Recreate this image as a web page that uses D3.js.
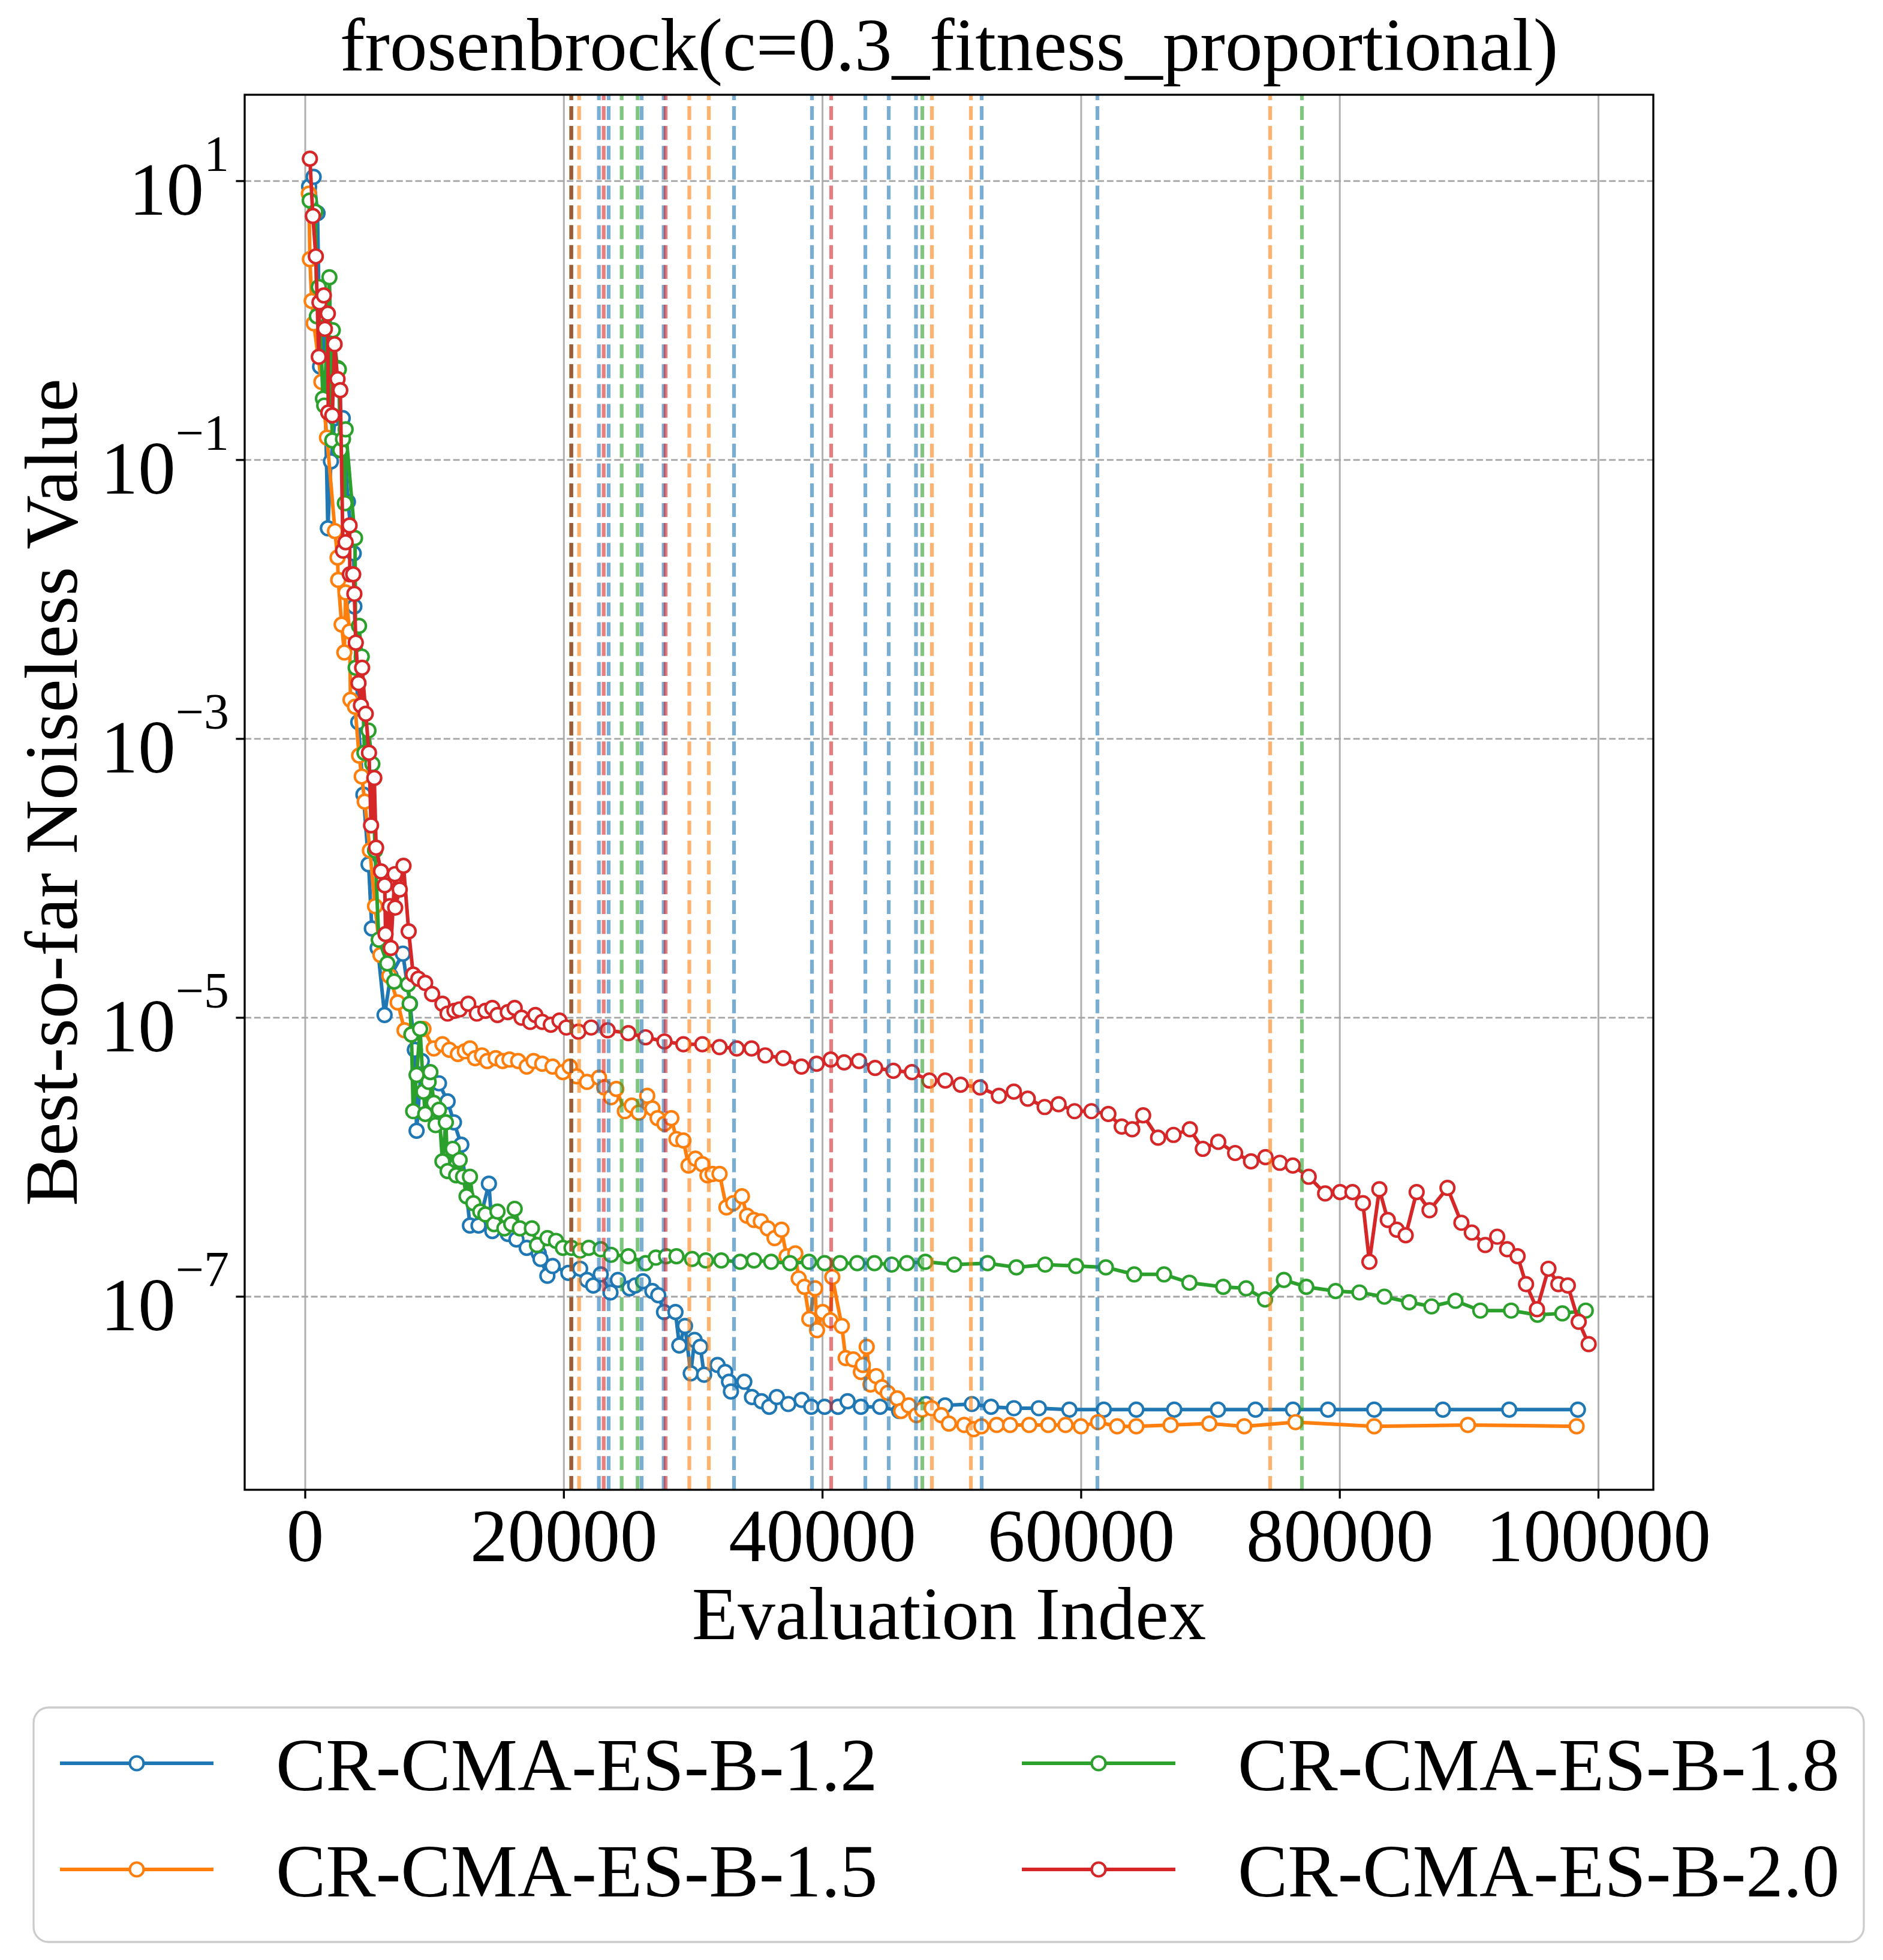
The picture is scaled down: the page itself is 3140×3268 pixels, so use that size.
<!DOCTYPE html>
<meta charset="utf-8">
<style>
body { margin: 0; background: #fff; }
text { font-family: "Liberation Serif", "Times New Roman", Times, serif; fill: #000; }
</style>
<svg id="chart" width="3140" height="3268"></svg>
<script src="https://d3js.org/d3.v7.min.js"></script>
<script>
// ---- data: [evaluation index, log10(best-so-far value)] ----
var blueRun = [
  [300,0.96],[650,1.03],[950,0.77],[1150,-0.33],[1400,0.10],[1750,-1.49],[1990,-1.01],[2300,-0.70],
  [2900,-0.70],[3300,-1.30],[3750,-1.67],[3800,-2.05],[4100,-2.88],[4500,-3.40],[4900,-3.90],[5150,-4.36],
  [5600,-4.50],[6135,-4.98],[6600,-4.70],[7550,-4.54],[8100,-4.90],[8477,-5.23],[8611,-5.81],[9011,-5.31],
  [9500,-5.40],[10341,-5.47],[11009,-5.60],[11500,-5.75],[12070,-5.91],[12738,-6.49],[13401,-6.49],[14203,-6.19],
  [14467,-6.53],[15664,-6.55],[16331,-6.59],[17129,-6.65],[18061,-6.69],[18195,-6.73],[18724,-6.85],[19128,-6.78],
  [20347,-6.83],[21256,-6.80],[21789,-6.88],[22272,-6.92],[22851,-6.84],[23603,-6.97],[24182,-6.88],[25082,-6.94],
  [25513,-6.92],[26116,-6.89],[26844,-6.96],[27299,-6.99],[27743,-7.11],[28629,-7.11],[28926,-7.35],[29366,-7.21],
  [29811,-7.55],[30108,-7.31],[30553,-7.36],[30845,-7.56],[31884,-7.49],[32472,-7.54],[32770,-7.61],[32918,-7.68],
  [33952,-7.61],[34546,-7.72],[35284,-7.75],[35877,-7.79],[36467,-7.72],[37353,-7.77],[38392,-7.74],[39129,-7.79],
  [40163,-7.79],[41197,-7.79],[41937,-7.75],[42971,-7.79],[44450,-7.79],[45930,-7.82],[47998,-7.77],[49478,-7.78],
  [51551,-7.77],[53030,-7.79],[54801,-7.80],[56725,-7.80],[59090,-7.81],[61752,-7.81],[64264,-7.81],[67200,-7.81],
  [70580,-7.81],[73480,-7.81],[76380,-7.81],[79090,-7.81],[82660,-7.81],[87970,-7.81],[93100,-7.81],[98410,-7.81]
];
var orangeRun = [
  [280,0.91],[360,0.44],[500,0.14],[660,-0.02],[1250,-0.44],[1680,-0.84],[2300,-1.51],[2500,-1.70],
  [2550,-1.86],[2815,-2.18],[3023,-2.38],[3125,-1.95],[3431,-2.23],[3500,-2.72],[3850,-2.77],[4164,-3.12],
  [4368,-3.27],[4600,-3.45],[5000,-3.80],[5400,-4.20],[5815,-4.55],[6500,-4.70],[7146,-4.89],[7680,-5.09],
  [8212,-5.12],[9144,-5.08],[9942,-5.22],[10610,-5.19],[11143,-5.23],[11806,-5.26],[12339,-5.24],[12738,-5.22],
  [13137,-5.29],[13670,-5.27],[14069,-5.31],[14732,-5.29],[15265,-5.31],[15798,-5.30],[16466,-5.31],[17129,-5.35],
  [17663,-5.31],[18330,-5.33],[19128,-5.35],[19920,-5.39],[20458,-5.35],[20987,-5.42],[21789,-5.46],[22721,-5.43],
  [23120,-5.50],[23649,-5.57],[24052,-5.51],[24715,-5.67],[25249,-5.63],[25782,-5.68],[26445,-5.56],[26849,-5.65],
  [27247,-5.72],[27776,-5.76],[28309,-5.72],[28708,-5.87],[29241,-5.88],[29640,-6.06],[30173,-6.01],[30706,-6.05],
  [31105,-6.13],[31504,-6.12],[32037,-6.12],[32570,-6.36],[33100,-6.33],[33767,-6.28],[34166,-6.42],[34699,-6.45],
  [35232,-6.46],[35766,-6.51],[36294,-6.58],[36827,-6.52],[37226,-6.71],[37894,-6.69],[38158,-6.87],[38600,-6.93],
  [38979,-7.16],[39425,-6.94],[39573,-7.24],[40014,-7.11],[40607,-7.17],[40756,-6.86],[41493,-7.21],[41789,-7.44],
  [42378,-7.45],[42971,-7.54],[43121,-7.49],[43416,-7.36],[43712,-7.63],[44154,-7.57],[44599,-7.65],[45044,-7.69],
  [45782,-7.73],[46079,-7.82],[46672,-7.78],[47262,-7.85],[47707,-7.81],[48443,-7.80],[49181,-7.85],[49773,-7.91],
  [50956,-7.92],[51698,-7.95],[52287,-7.93],[53470,-7.92],[54504,-7.92],[55983,-7.92],[57463,-7.92],[58793,-7.92],
  [59976,-7.93],[61305,-7.90],[62785,-7.93],[64264,-7.93],[66913,-7.92],[69908,-7.91],[72612,-7.93],[76574,-7.90],
  [82660,-7.93],[89905,-7.92],[98310,-7.93]
];
var greenRun = [
  [350,0.86],[780,0.78],[900,0.03],[1050,0.24],[1370,-0.56],[1470,-0.61],[1870,0.31],[2090,-0.86],
  [2130,-0.07],[2500,-0.34],[2600,-0.35],[2710,-0.93],[2920,-0.85],[3065,-1.31],[3125,-0.78],[3850,-1.56],
  [3900,-2.49],[4160,-2.19],[4370,-2.41],[4580,-3.10],[4890,-2.94],[5190,-3.18],[5400,-3.80],[5685,-4.44],
  [6349,-4.61],[6881,-4.74],[7948,-4.76],[8078,-4.90],[8212,-5.12],[8347,-5.67],[8611,-5.41],[8880,-5.08],
  [9144,-5.53],[9279,-5.69],[9543,-5.46],[9677,-5.39],[9942,-5.61],[10077,-5.77],[10341,-5.66],[10610,-6.03],
  [10874,-5.75],[11009,-6.10],[11407,-5.94],[11672,-6.13],[11940,-6.02],[12205,-6.14],[12474,-6.28],[12738,-6.14],
  [13002,-6.33],[13540,-6.39],[13934,-6.41],[14602,-6.48],[14867,-6.39],[15400,-6.51],[15932,-6.48],[16197,-6.37],
  [16596,-6.51],[17528,-6.51],[17927,-6.63],[18729,-6.58],[19392,-6.60],[19925,-6.65],[20588,-6.65],[21256,-6.67],
  [21924,-6.65],[22851,-6.66],[23649,-6.70],[24984,-6.71],[26315,-6.76],[27113,-6.72],[27910,-6.71],[28708,-6.71],
  [29910,-6.73],[30976,-6.74],[32172,-6.74],[33632,-6.75],[34699,-6.74],[36030,-6.75],[37494,-6.76],[38956,-6.75],
  [40158,-6.76],[41353,-6.76],[42684,-6.76],[44015,-6.76],[45345,-6.77],[46529,-6.76],[47952,-6.75],[50183,-6.77],
  [52761,-6.76],[54991,-6.79],[57221,-6.77],[59605,-6.78],[61910,-6.79],[64103,-6.84],[66408,-6.84],[68369,-6.90],
  [70985,-6.93],[72756,-6.94],[74217,-7.02],[75677,-6.88],[77407,-6.93],[79675,-6.96],[81521,-6.97],[83445,-7.00],
  [85365,-7.04],[87095,-7.07],[88940,-7.03],[90865,-7.10],[93248,-7.10],[95288,-7.13],[97208,-7.12],[99017,-7.10]
];
var redRun = [
  [360,1.16],[590,0.75],[820,0.46],[1050,-0.26],[1100,0.13],[1440,0.18],[1520,-0.06],[1750,0.05],
  [1780,-0.66],[2090,-0.68],[2270,-0.17],[2500,-0.42],[2710,-0.50],[2920,-1.65],[3125,-1.59],[3430,-1.47],
  [3450,-1.82],[3710,-1.82],[3800,-1.96],[3910,-2.31],[4120,-2.60],[4310,-2.76],[4400,-2.49],[4680,-2.82],
  [4930,-3.10],[5090,-3.62],[5340,-3.28],[5480,-3.78],[5860,-3.95],[6150,-4.05],[6210,-4.40],[6540,-4.20],
  [6620,-4.50],[6930,-3.97],[6955,-4.21],[7310,-4.08],[7600,-3.91],[8000,-4.38],[8347,-4.69],[8746,-4.72],
  [9274,-4.75],[9812,-4.83],[10610,-4.90],[11009,-4.97],[11541,-4.95],[11940,-4.94],[12604,-4.90],[13271,-4.97],
  [13934,-4.95],[14468,-4.93],[14867,-4.98],[15664,-4.96],[16197,-4.93],[16730,-5.00],[17398,-5.03],[17797,-4.98],
  [18330,-5.03],[18993,-5.05],[19661,-5.02],[20190,-5.07],[21122,-5.10],[22109,-5.07],[23385,-5.09],[24984,-5.11],
  [26315,-5.14],[27776,-5.17],[29241,-5.19],[30706,-5.19],[32037,-5.21],[33368,-5.22],[34513,-5.22],[35575,-5.27],
  [36961,-5.29],[38371,-5.35],[39544,-5.33],[40634,-5.30],[41673,-5.32],[42818,-5.31],[44070,-5.36],[45478,-5.38],
  [46913,-5.39],[48262,-5.45],[49491,-5.45],[50682,-5.48],[52180,-5.50],[53641,-5.56],[54795,-5.53],[55871,-5.58],
  [57179,-5.64],[58255,-5.62],[59488,-5.67],[60792,-5.67],[62103,-5.69],[63138,-5.78],[63945,-5.80],[64793,-5.70],
  [65948,-5.86],[67140,-5.84],[68406,-5.80],[69407,-5.94],[70599,-5.89],[71906,-5.97],[73135,-6.03],[74252,-6.00],
  [75365,-6.04],[76366,-6.06],[77595,-6.14],[78866,-6.26],[80020,-6.25],[80980,-6.25],[81787,-6.33],[82288,-6.75],
  [83058,-6.23],[83711,-6.45],[84403,-6.52],[85093,-6.56],[85942,-6.25],[86938,-6.38],[88326,-6.22],[89401,-6.47],
  [90208,-6.54],[91246,-6.63],[92171,-6.57],[92940,-6.66],[93748,-6.71],[94401,-6.91],[95246,-7.09],[96130,-6.80],
  [96900,-6.91],[97629,-6.92],[98475,-7.18],[99242,-7.34]
];

// restart markers (vertical dashed lines)
var blueRestarts = [22707, 23463, 26014, 27715, 33156, 39184, 43311, 45120, 47230, 52307, 61257];
var orangeRestarts = [21177, 29700, 31208, 48458, 51472, 74612];
var greenRestarts = [20574, 20574, 24469, 25703, 47717, 77070];
var redRestarts = [20574, 23078, 27868, 40668];

var xTicks = [0, 20000, 40000, 60000, 80000, 100000];
var yTickExp = [1, -1, -3, -5, -7];
var seriesNames = ["CR-CMA-ES-B-1.2", "CR-CMA-ES-B-1.5", "CR-CMA-ES-B-1.8", "CR-CMA-ES-B-2.0"];
var seriesColors = ["#1f77b4", "#ff7f0e", "#2ca02c", "#d62728"];

var runs = [blueRun, orangeRun, greenRun, redRun];
var restarts = [blueRestarts, orangeRestarts, greenRestarts, redRestarts];

// ---- layout ----
var W = 3140, H = 3268;
var L = 408, R = 2757, T = 158, B = 2484;

var svg = d3.select("#chart");
svg.append("rect").attr("width", W).attr("height", H).attr("fill", "#fff");

var x = d3.scaleLinear().domain([-4683, 104243]).range([L, R]);
var y = d3.scaleLog().domain([Math.pow(10, -8.385), Math.pow(10, 1.619)]).range([B, T]);

svg.append("clipPath").attr("id", "clip")
  .append("rect").attr("x", L).attr("y", T).attr("width", R - L).attr("height", B - T);

var plot = svg.append("g").attr("clip-path", "url(#clip)");

// grid
plot.selectAll(".vgrid").data(xTicks).enter().append("line")
  .attr("x1", d => x(d)).attr("x2", d => x(d)).attr("y1", T).attr("y2", B)
  .attr("stroke", "#b0b0b0").attr("stroke-width", 3);
plot.selectAll(".hgrid").data(yTickExp).enter().append("line")
  .attr("x1", L).attr("x2", R).attr("y1", d => y(Math.pow(10, d))).attr("y2", d => y(Math.pow(10, d)))
  .attr("stroke", "#a4a4a4").attr("stroke-width", 2.8).attr("stroke-dasharray", "11,4.8");

// series
var line = d3.line().x(d => x(d[0])).y(d => y(Math.pow(10, d[1])));
runs.forEach(function(run, i) {
  var g = plot.append("g");
  g.append("path").datum(run).attr("d", line)
    .attr("fill", "none").attr("stroke", seriesColors[i]).attr("stroke-width", 6)
    .attr("stroke-linejoin", "round");
  g.selectAll("circle").data(run).enter().append("circle")
    .attr("cx", d => x(d[0])).attr("cy", d => y(Math.pow(10, d[1]))).attr("r", 11.5)
    .attr("fill", "#fff").attr("stroke", seriesColors[i]).attr("stroke-width", 4.2);
});

// restart lines
restarts.forEach(function(list, i) {
  plot.append("g").selectAll("line").data(list).enter().append("line")
    .attr("x1", d => x(d)).attr("x2", d => x(d)).attr("y1", B).attr("y2", T)
    .attr("stroke", seriesColors[i]).attr("stroke-opacity", 0.6).attr("stroke-width", 6.25)
    .attr("stroke-dasharray", "23.1,10");
});

// frame
svg.append("rect").attr("x", L).attr("y", T).attr("width", R - L).attr("height", B - T)
  .attr("fill", "none").attr("stroke", "#000").attr("stroke-width", 3.3);

// x ticks
svg.selectAll(".xt").data(xTicks).enter().append("line")
  .attr("x1", d => x(d)).attr("x2", d => x(d)).attr("y1", B).attr("y2", B + 14.6)
  .attr("stroke", "#000").attr("stroke-width", 3.3);
svg.selectAll(".xl").data(xTicks).enter().append("text")
  .attr("x", d => x(d)).attr("y", 2603).attr("text-anchor", "middle")
  .attr("font-size", 125).text(d => d);

// y ticks
svg.selectAll(".yt").data(yTickExp).enter().append("line")
  .attr("x1", L - 14.6).attr("x2", L).attr("y1", d => y(Math.pow(10, d))).attr("y2", d => y(Math.pow(10, d)))
  .attr("stroke", "#000").attr("stroke-width", 3.3);
var yl = svg.selectAll(".yl").data(yTickExp).enter().append("text")
  .attr("x", 382).attr("y", d => y(Math.pow(10, d)) + 56).attr("text-anchor", "end");
yl.append("tspan").attr("font-size", 125).text("10");
yl.append("tspan").attr("font-size", 84).attr("dy", -73)
  .text(d => (d < 0 ? "\u2212" : "") + Math.abs(d));

// titles
svg.append("text").attr("x", (L + R) / 2).attr("y", 117).attr("text-anchor", "middle")
  .attr("font-size", 125).text("frosenbrock(c=0.3_fitness_proportional)");
svg.append("text").attr("x", (L + R) / 2).attr("y", 2733).attr("text-anchor", "middle")
  .attr("font-size", 125).text("Evaluation Index");
svg.append("text").attr("transform", "translate(128," + (T + B) / 2 + ") rotate(-90)")
  .attr("text-anchor", "middle").attr("font-size", 125).text("Best-so-far Noiseless Value");

// legend
svg.append("rect").attr("x", 56).attr("y", 2847).attr("width", 3052).attr("height", 391)
  .attr("rx", 25).attr("ry", 25).attr("fill", "#fff").attr("stroke", "#cccccc").attr("stroke-width", 3.3);
var legendCols = [100, 1704], legendRows = [2940, 3117];
seriesNames.forEach(function(name, i) {
  var lx = legendCols[Math.floor(i / 2)], ly = legendRows[i % 2];
  var g = svg.append("g");
  g.append("line").attr("x1", lx).attr("x2", lx + 256).attr("y1", ly).attr("y2", ly)
    .attr("stroke", seriesColors[i]).attr("stroke-width", 6);
  g.append("circle").attr("cx", lx + 128).attr("cy", ly).attr("r", 11.5)
    .attr("fill", "#fff").attr("stroke", seriesColors[i]).attr("stroke-width", 4.2);
  g.append("text").attr("x", lx + 360).attr("y", ly + 45).attr("font-size", 125).text(name);
});
</script>
